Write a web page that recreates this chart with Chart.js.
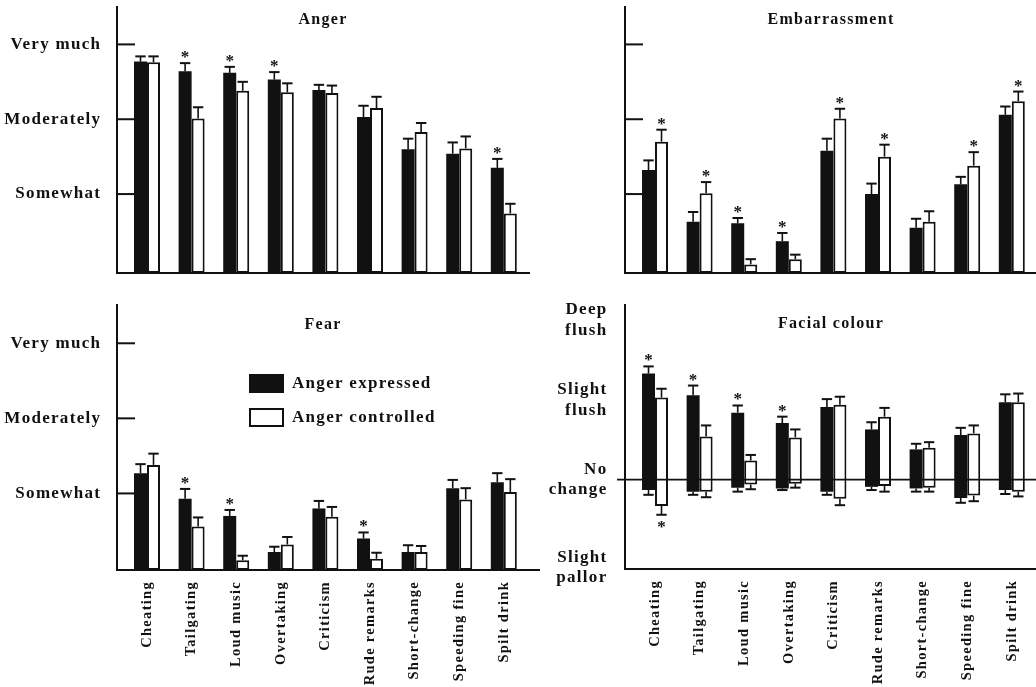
<!DOCTYPE html>
<html>
<head>
<meta charset="utf-8">
<script src="https://cdn.jsdelivr.net/npm/chart.js@4/dist/chart.umd.min.js"></script>
<style>
  html, body { margin: 0; background: #fff; }
  #wrap { position: relative; width: 1036px; height: 687px; overflow: hidden; background: #fff; }
  #wrap canvas { position: absolute; }
</style>
</head>
<body>
<div id="wrap">
  <canvas id="angerChart" width="530" height="290" style="left:0;top:0"></canvas>
  <canvas id="embarrassChart" width="516" height="290" style="left:520px;top:0"></canvas>
  <canvas id="fearChart" width="540" height="397" style="left:0;top:290px"></canvas>
  <canvas id="colourChart" width="516" height="397" style="left:520px;top:290px"></canvas>
</div>
<script>
(function() {
  'use strict';

  var categories = ['Cheating', 'Tailgating', 'Loud music', 'Overtaking', 'Criticism', 'Rude remarks', 'Short-change', 'Speeding fine', 'Spilt drink'];
  var seriesLabels = ['Anger expressed', 'Anger controlled'];

  var levelValues = [1, 2, 3];
  var levelLabels = ['Somewhat', 'Moderately', 'Very much'];
  var colourValues = [2, 1, 0, -1.1];
  var colourLabels = [['Deep', 'flush'], ['Slight', 'flush'], ['No', 'change'], ['Slight', 'pallor']];

  // Anger
  var angerExpressed = [2.77, 2.64, 2.62, 2.53, 2.39, 2.03, 1.60, 1.54, 1.35];
  var angerExpressedSE = [0.07, 0.11, 0.08, 0.10, 0.07, 0.15, 0.14, 0.15, 0.12];
  var angerExpressedSig = [0, 1, 1, 1, 0, 0, 0, 0, 1];
  var angerControlled = [2.76, 2.01, 2.38, 2.36, 2.35, 2.15, 1.83, 1.61, 0.74];
  var angerControlledSE = [0.08, 0.15, 0.12, 0.12, 0.10, 0.15, 0.12, 0.16, 0.13];
  var angerControlledSig = [0, 0, 0, 0, 0, 0, 0, 0, 0];

  // Embarrassment
  var embExpressed = [1.32, 0.63, 0.61, 0.37, 1.58, 1.00, 0.55, 1.13, 2.06];
  var embExpressedSE = [0.13, 0.13, 0.07, 0.11, 0.16, 0.14, 0.12, 0.10, 0.11];
  var embExpressedSig = [0, 0, 1, 1, 0, 0, 0, 0, 0];
  var embControlled = [1.70, 1.01, 0.06, 0.13, 2.01, 1.50, 0.63, 1.38, 2.24];
  var embControlledSE = [0.16, 0.15, 0.07, 0.06, 0.13, 0.16, 0.14, 0.18, 0.13];
  var embControlledSig = [1, 1, 0, 0, 1, 1, 0, 1, 1];

  // Fear
  var fearExpressed = [1.27, 0.93, 0.70, 0.22, 0.80, 0.40, 0.22, 1.07, 1.15];
  var fearExpressedSE = [0.12, 0.13, 0.08, 0.07, 0.10, 0.08, 0.09, 0.11, 0.12];
  var fearExpressedSig = [0, 1, 1, 0, 0, 1, 0, 0, 0];
  var fearControlled = [1.38, 0.56, 0.11, 0.32, 0.69, 0.13, 0.22, 0.92, 1.02];
  var fearControlledSE = [0.15, 0.12, 0.06, 0.10, 0.13, 0.08, 0.08, 0.15, 0.17];
  var fearControlledSig = [0, 0, 0, 0, 0, 0, 0, 0, 0];

  // Facial colour: flush (up) and pallor (down) per bar
  var colourExpressedFlush = [1.33, 1.06, 0.84, 0.71, 0.91, 0.63, 0.38, 0.56, 0.97];
  var colourExpressedFlushSE = [0.09, 0.12, 0.09, 0.08, 0.10, 0.09, 0.07, 0.09, 0.10];
  var colourExpressedPallor = [-0.13, -0.15, -0.10, -0.11, -0.15, -0.09, -0.11, -0.23, -0.13];
  var colourExpressedPallorSE = [0.06, 0.04, 0.05, 0.02, 0.04, 0.04, 0.04, 0.06, 0.05];
  var colourExpressedFlushSig = [1, 1, 1, 1, 0, 0, 0, 0, 0];
  var colourExpressedPallorSig = [0, 0, 0, 0, 0, 0, 0, 0, 0];
  var colourControlledFlush = [1.03, 0.54, 0.24, 0.53, 0.94, 0.79, 0.40, 0.58, 0.97];
  var colourControlledFlushSE = [0.11, 0.14, 0.07, 0.10, 0.10, 0.11, 0.07, 0.10, 0.11];
  var colourControlledPallor = [-0.33, -0.15, -0.06, -0.05, -0.24, -0.08, -0.10, -0.20, -0.15];
  var colourControlledPallorSE = [0.11, 0.07, 0.06, 0.05, 0.08, 0.07, 0.05, 0.07, 0.06];
  var colourControlledFlushSig = [0, 0, 0, 0, 0, 0, 0, 0, 0];
  var colourControlledPallorSig = [1, 0, 0, 0, 0, 0, 0, 0, 0];

  var ink = '#111';
  var serif = '"Liberation Serif", "Times New Roman", serif';
  var unit = 44.6;
  var xMin = -0.673;

  function barPoints(values) {
    return values.map(function(v, i) { return { x: i, y: v }; });
  }

  function rangePoints(low, high) {
    return low.map(function(v, i) { return { x: i, y: [v, high[i]] }; });
  }

  function drawStar(ctx, x, y) {
    ctx.font = 'bold 17px ' + serif;
    ctx.textAlign = 'center';
    ctx.textBaseline = 'alphabetic';
    ctx.fillStyle = ink;
    ctx.fillText('*', x + 0.6, y);
  }

  var decorPlugin = {
    id: 'panelDecor',
    beforeDraw: function(chart) {
      chart.ctx.letterSpacing = '1.3px';
    },
    afterDatasetsDraw: function(chart, args, opts) {
      var ctx = chart.ctx;
      var yScale = chart.scales.y;
      var area = chart.chartArea;
      ctx.save();
      ctx.strokeStyle = ink;
      chart.data.datasets.forEach(function(ds, di) {
        var meta = chart.getDatasetMeta(di);
        meta.data.forEach(function(bar, i) {
          var raw = ds.data[i].y;
          var hi = Array.isArray(raw) ? raw[1] : raw;
          var lo = Array.isArray(raw) ? raw[0] : null;
          var half = bar.width * 0.4;
          var from, to;
          if (ds.errUp) {
            from = yScale.getPixelForValue(hi);
            to = yScale.getPixelForValue(hi + ds.errUp[i]);
            ctx.lineWidth = 1.6;
            ctx.beginPath(); ctx.moveTo(bar.x, from); ctx.lineTo(bar.x, to); ctx.stroke();
            ctx.lineWidth = 2;
            ctx.beginPath(); ctx.moveTo(bar.x - half, to); ctx.lineTo(bar.x + half, to); ctx.stroke();
            if (ds.sigUp && ds.sigUp[i]) drawStar(ctx, bar.x, to - 1);
          }
          if (ds.errDown && lo !== null) {
            from = yScale.getPixelForValue(lo);
            to = yScale.getPixelForValue(lo - ds.errDown[i]);
            ctx.lineWidth = 1.6;
            ctx.beginPath(); ctx.moveTo(bar.x, from); ctx.lineTo(bar.x, to); ctx.stroke();
            ctx.lineWidth = 2;
            ctx.beginPath(); ctx.moveTo(bar.x - half, to); ctx.lineTo(bar.x + half, to); ctx.stroke();
            if (ds.sigDown && ds.sigDown[i]) drawStar(ctx, bar.x, to + 17);
          }
        });
      });
      if (opts.zeroLine) {
        var zy = yScale.getPixelForValue(0);
        ctx.lineWidth = 1.6;
        ctx.beginPath(); ctx.moveTo(area.left - 8, zy); ctx.lineTo(area.right, zy); ctx.stroke();
      }
      ctx.restore();
    },
    afterDraw: function(chart, args, opts) {
      var ctx = chart.ctx;
      var area = chart.chartArea;
      var yScale = chart.scales.y;
      ctx.save();
      ctx.fillStyle = ink;
      ctx.strokeStyle = ink;
      if (opts.title) {
        ctx.font = 'bold 16px ' + serif;
        ctx.textAlign = 'center';
        ctx.textBaseline = 'middle';
        ctx.fillText(opts.title, area.left + 206, area.top + opts.titleDy);
      }
      if (opts.levelTicks) {
        ctx.lineWidth = 2;
        opts.levelTicks.forEach(function(v) {
          var py = yScale.getPixelForValue(v);
          ctx.beginPath(); ctx.moveTo(area.left, py); ctx.lineTo(area.left + 18, py); ctx.stroke();
        });
      }
      if (opts.legend) {
        chart.data.datasets.forEach(function(ds, i) {
          var bx = area.left + opts.legend.x;
          var by = area.top + opts.legend.y + i * opts.legend.gap;
          ctx.fillStyle = ds.backgroundColor;
          ctx.fillRect(bx, by, 35, 19);
          ctx.lineWidth = 2;
          ctx.strokeRect(bx + 1, by + 1, 33, 17);
          ctx.fillStyle = ink;
          ctx.font = 'bold 17px ' + serif;
          ctx.textAlign = 'left';
          ctx.textBaseline = 'middle';
          ctx.fillText(ds.label, bx + 43, by + 10);
        });
      }
      ctx.restore();
    }
  };

  function makeDatasets(exData, exSE, exSig, coData, coSE, coSig, extra) {
    extra = extra || {};
    return [
      {
        label: seriesLabels[0], data: exData, backgroundColor: ink, borderColor: ink, borderWidth: 0,
        base: extra.base, errUp: exSE, sigUp: exSig, errDown: extra.exDown, sigDown: extra.exDownSig
      },
      {
        label: seriesLabels[1], data: coData, backgroundColor: '#fff', borderColor: ink, borderWidth: 2, borderSkipped: false,
        base: extra.base, errUp: coSE, sigUp: coSig, errDown: extra.coDown, sigDown: extra.coDownSig
      }
    ];
  }

  function makePanel(id, cfg) {
    var canvas = document.getElementById(id);
    var xMax = (canvas.width - cfg.yWidth) / unit + xMin;
    return new Chart(canvas, {
      type: 'bar',
      data: { datasets: cfg.datasets },
      options: {
        responsive: false,
        animation: false,
        devicePixelRatio: 1,
        layout: { padding: { top: cfg.top, left: 0, right: 0, bottom: 0 } },
        datasets: { bar: { categoryPercentage: 26 / unit, barPercentage: 1 } },
        plugins: {
          legend: { display: false },
          tooltip: { enabled: false },
          panelDecor: { title: cfg.title, titleDy: cfg.titleDy, levelTicks: cfg.levelTicks, zeroLine: cfg.zeroLine, legend: cfg.legend }
        },
        scales: {
          x: {
            type: 'linear', offset: false, min: xMin, max: xMax,
            grid: { display: false, offset: false },
            border: { display: true, color: ink, width: 2 },
            afterBuildTicks: function(axis) {
              axis.ticks = categories.map(function(c, i) { return { value: i }; });
            },
            afterFit: function(axis) {
              axis.height = cfg.xHeight;
              axis.paddingLeft = 0;
              axis.paddingRight = 0;
            },
            ticks: {
              display: !!cfg.showCategories, autoSkip: false, minRotation: 90, maxRotation: 90, padding: 3,
              color: ink, font: { family: serif, size: 14.5, weight: 'bold' },
              callback: function(v) { return categories[v]; }
            }
          },
          y: {
            type: 'linear', min: cfg.yMin, max: cfg.yMax,
            grid: { display: false },
            border: { display: true, color: ink, width: 2 },
            afterBuildTicks: function(axis) {
              axis.ticks = cfg.tickValues.map(function(v) { return { value: v }; });
            },
            afterFit: function(axis) {
              axis.width = cfg.yWidth;
              axis.paddingTop = 0;
              axis.paddingBottom = 0;
            },
            ticks: {
              display: !!cfg.tickLabels, autoSkip: false, padding: cfg.yPad || 8,
              color: ink, font: { family: serif, size: 17, weight: 'bold', lineHeight: 1.2 },
              callback: function(v) {
                var idx = cfg.tickValues.indexOf(v);
                return cfg.tickLabels ? cfg.tickLabels[idx] : '';
              }
            }
          }
        }
      },
      plugins: [decorPlugin]
    });
  }

  makePanel('angerChart', {
    title: 'Anger', titleDy: 13, top: 7, xHeight: 17, yWidth: 117, yPad: 7.7,
    yMin: -0.055, yMax: 3.5, tickValues: levelValues, tickLabels: levelLabels, levelTicks: levelValues,
    datasets: makeDatasets(barPoints(angerExpressed), angerExpressedSE, angerExpressedSig,
      barPoints(angerControlled), angerControlledSE, angerControlledSig, { base: -0.055 })
  });

  makePanel('embarrassChart', {
    title: 'Embarrassment', titleDy: 13, top: 7, xHeight: 17, yWidth: 105,
    yMin: -0.055, yMax: 3.5, tickValues: levelValues, tickLabels: null, levelTicks: levelValues,
    datasets: makeDatasets(barPoints(embExpressed), embExpressedSE, embExpressedSig,
      barPoints(embControlled), embControlledSE, embControlledSig, { base: -0.055 })
  });

  makePanel('fearChart', {
    title: 'Fear', titleDy: 20, top: 15, xHeight: 117, yWidth: 117, yPad: 7.7, showCategories: true,
    yMin: -0.02, yMax: 3.51, tickValues: levelValues, tickLabels: levelLabels, levelTicks: levelValues,
    legend: { x: 132, y: 69, gap: 34 },
    datasets: makeDatasets(barPoints(fearExpressed), fearExpressedSE, fearExpressedSig,
      barPoints(fearControlled), fearControlledSE, fearControlledSig, { base: -0.02 })
  });

  makePanel('colourChart', {
    title: 'Facial colour', titleDy: 19, top: 15, xHeight: 118, yWidth: 105, yPad: 9.5, showCategories: true,
    yMin: -1.12, yMax: 2.19, tickValues: colourValues, tickLabels: colourLabels, zeroLine: true,
    datasets: makeDatasets(rangePoints(colourExpressedPallor, colourExpressedFlush), colourExpressedFlushSE, colourExpressedFlushSig,
      rangePoints(colourControlledPallor, colourControlledFlush), colourControlledFlushSE, colourControlledFlushSig,
      { exDown: colourExpressedPallorSE, exDownSig: colourExpressedPallorSig, coDown: colourControlledPallorSE, coDownSig: colourControlledPallorSig })
  });
})();
</script>
</body>
</html>
